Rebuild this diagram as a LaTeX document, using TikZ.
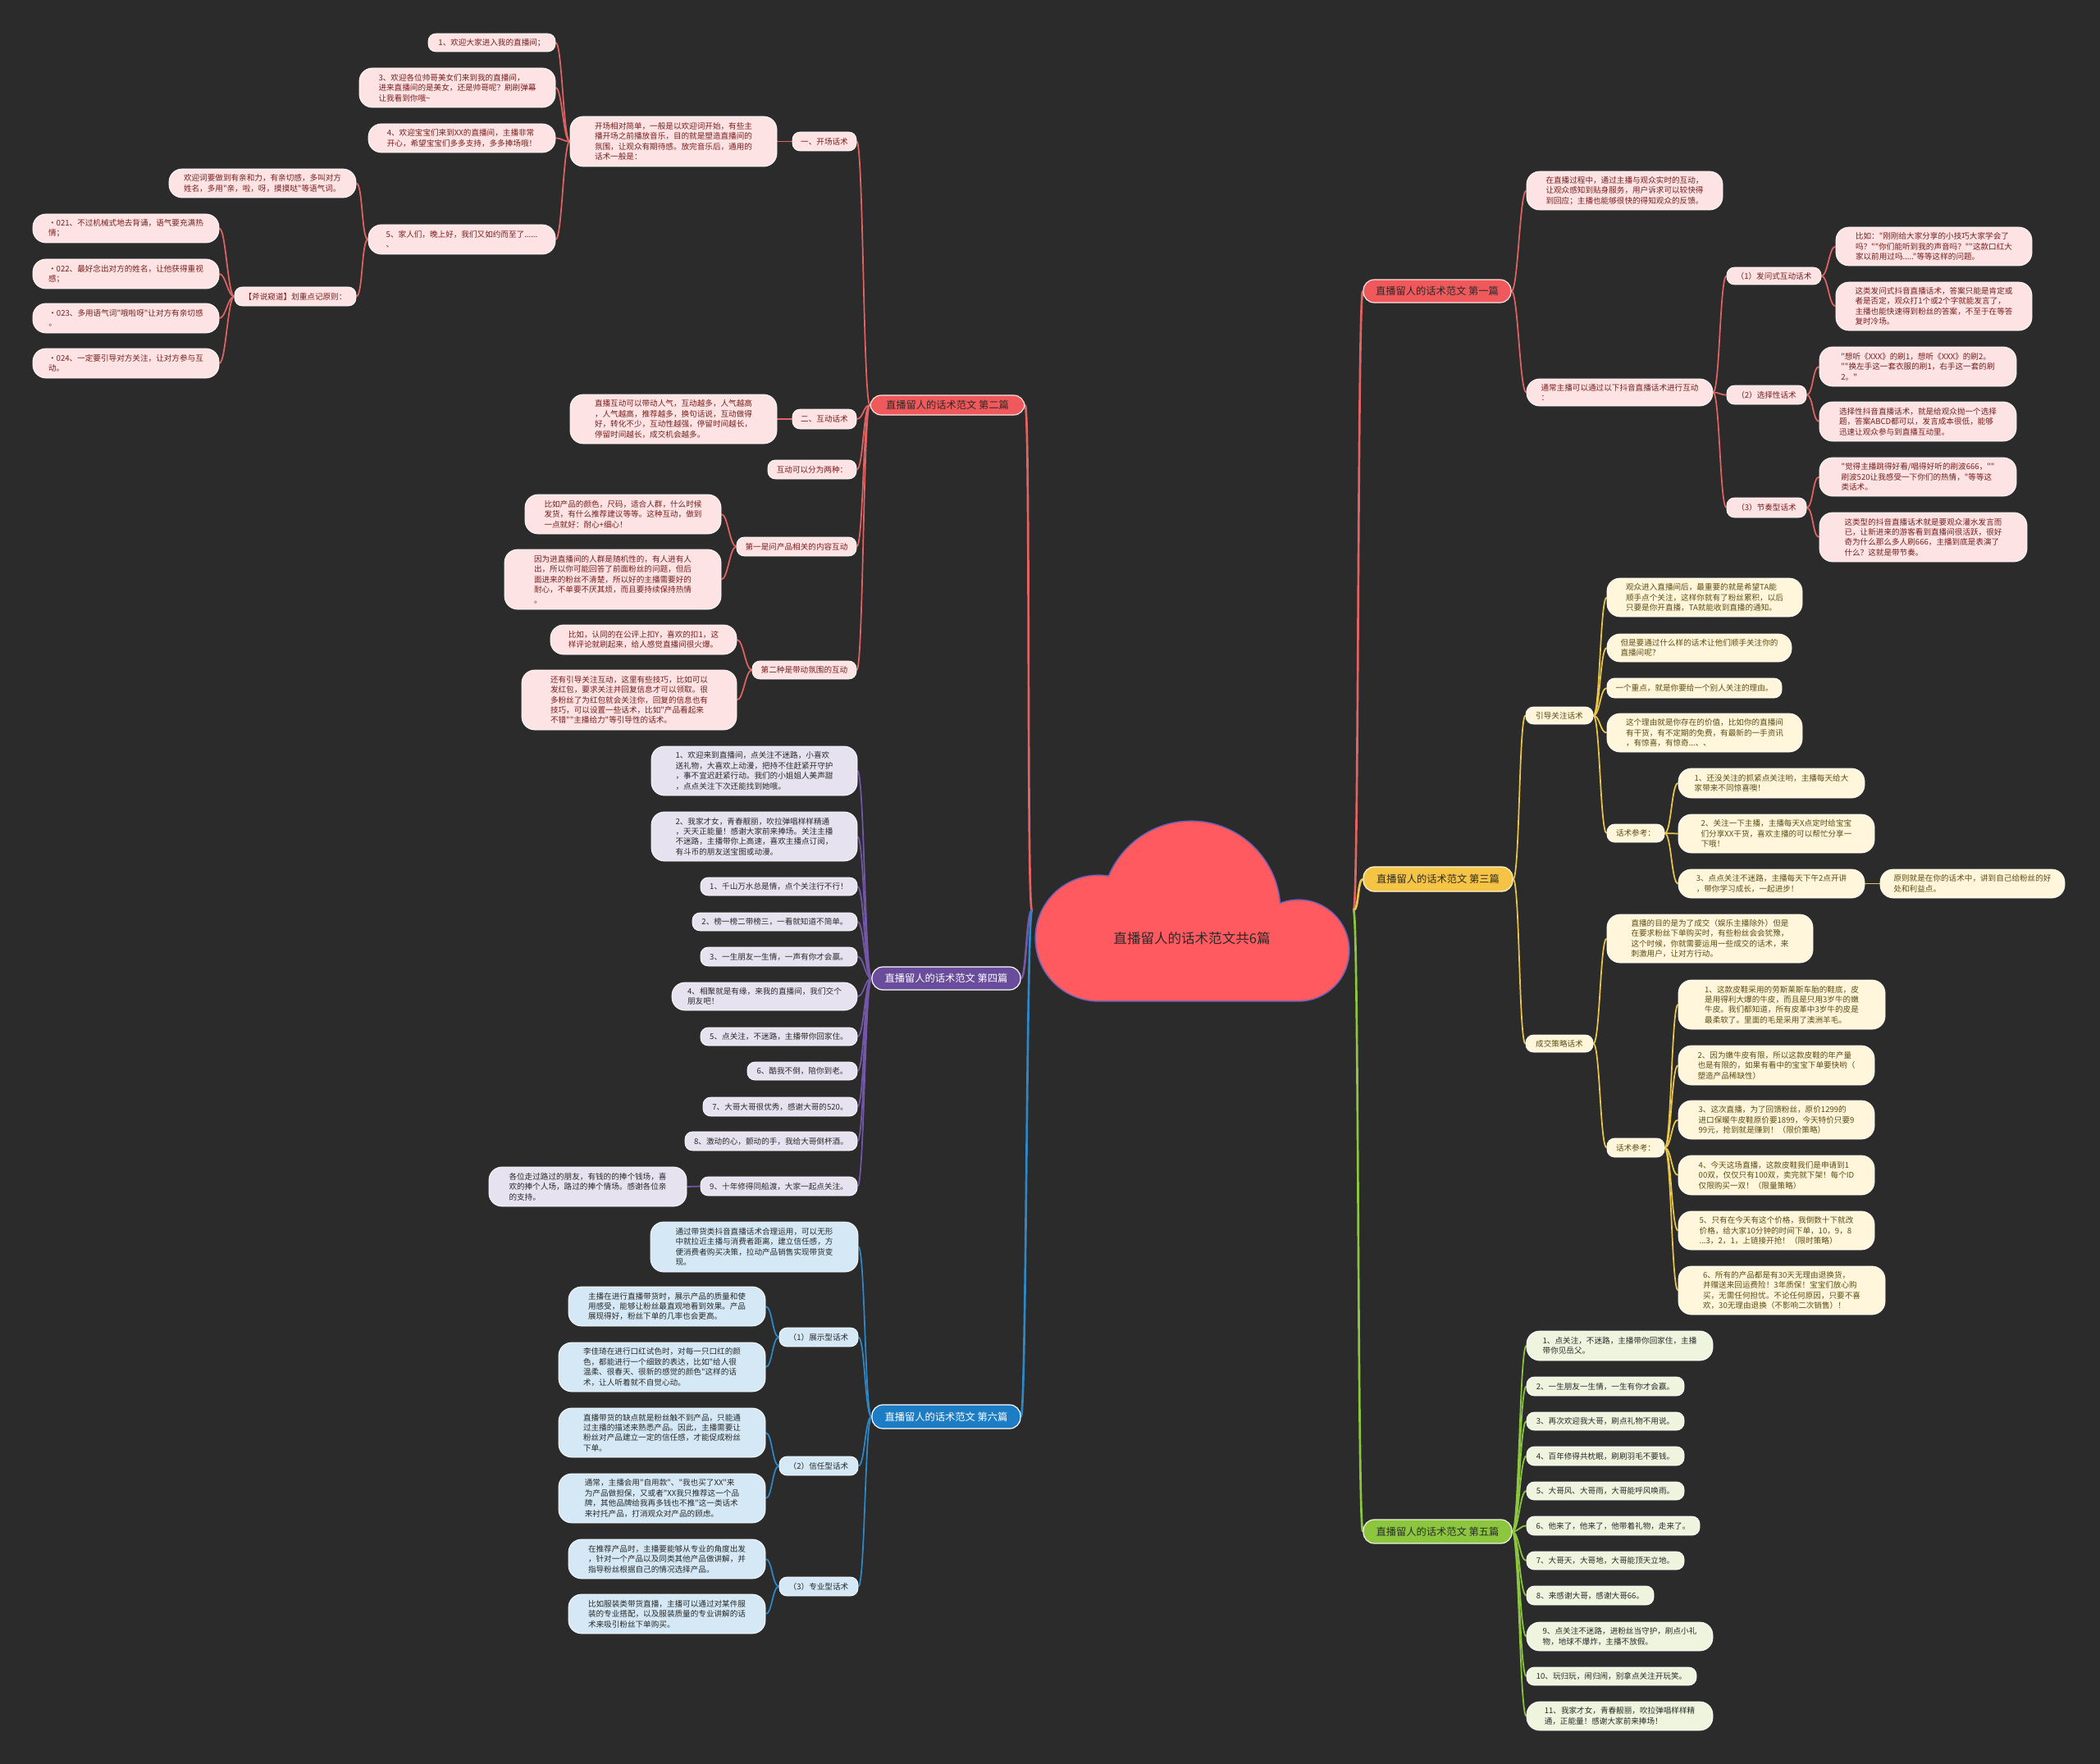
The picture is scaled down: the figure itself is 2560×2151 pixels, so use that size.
\documentclass[tikz,border=0pt]{standalone}
\usepackage{fontspec}
\newfontfamily\cjk{Noto Sans CJK SC}
\definecolor{bgc}{HTML}{2B2B2B}
\definecolor{cloudc}{HTML}{FF5A5F}
\definecolor{cloudb}{HTML}{6E62B4}
\definecolor{rmainc}{HTML}{F0595B}
\definecolor{rleafc}{HTML}{FDE3E3}
\definecolor{rtext}{HTML}{7A1E1E}
\definecolor{rline}{HTML}{E26363}
\definecolor{pmainc}{HTML}{6A4C9C}
\definecolor{pleafc}{HTML}{E7E2F0}
\definecolor{pline}{HTML}{7457A6}
\definecolor{bmainc}{HTML}{1D7DC4}
\definecolor{bleafc}{HTML}{D4E8F5}
\definecolor{bline}{HTML}{2E88C8}
\definecolor{ymainc}{HTML}{F6C445}
\definecolor{yleafc}{HTML}{FFF6DB}
\definecolor{ytext}{HTML}{5E4C12}
\definecolor{yline}{HTML}{EAC64A}
\definecolor{gmainc}{HTML}{8CC63F}
\definecolor{gleafc}{HTML}{EEF4DE}
\definecolor{gline}{HTML}{8CC63F}
\definecolor{dtext}{HTML}{2A2A2A}
\newcommand\lffont{\cjk\fontsize{7.2pt}{9.3pt}\selectfont}
\newcommand\mnfont{\cjk\fontsize{9.2pt}{11pt}\selectfont}
\newcommand\ctfont{\cjk\fontsize{12.4pt}{14pt}\selectfont}
\pgfdeclarelayer{bg}
\pgfdeclarelayer{lines}
\pgfsetlayers{bg,lines,main}
\newcommand\mapbox[7]{\node[#6,minimum width={(#4-#2)*0.75pt},minimum height={(#5-#3)*0.75pt}] (#1) at ({(#2+#4)/2},{(#3+#5)/2}) {#7};}
\newcommand\lkl[3]{\draw[#1] (#2.west) to[out=180,in=0,distance=6pt] (#3.east);}
\newcommand\lkr[3]{\draw[#1] (#2.east) to[out=0,in=180,distance=6pt] (#3.west);}
\tikzset{
  leaf/.style={inner sep=0pt,align=left,rounded corners=7pt,draw=white,line width=0.6pt,font=\lffont},
  ml/.style={rounded corners=12pt},
  mainn/.style={inner sep=0pt,align=center,rounded corners=10pt,draw=white,line width=0.9pt,font=\mnfont},
  rleaf/.style={leaf,fill=rleafc,text=rtext},
  pleaf/.style={leaf,fill=pleafc,text=dtext},
  bleaf/.style={leaf,fill=bleafc,text=dtext},
  yleaf/.style={leaf,fill=yleafc,text=ytext},
  gleaf/.style={leaf,fill=gleafc,text=dtext},
  rmain/.style={mainn,fill=rmainc,draw=rleafc,text=dtext},
  pmain/.style={mainn,fill=pmainc,text=white},
  bmain/.style={mainn,fill=bmainc,text=white},
  ymain/.style={mainn,fill=ymainc,draw=yleafc,text=dtext},
  gmain/.style={mainn,fill=gmainc,draw=gleafc,text=dtext},
  rl/.style={draw=rline,line width=1.3pt},
  pl/.style={draw=pline,line width=1.3pt},
  bl/.style={draw=bline,line width=1.3pt},
  yl/.style={draw=yline,line width=1.3pt},
  gl/.style={draw=gline,line width=1.3pt},
  rml/.style={draw=rline,line width=2pt},
  pml/.style={draw=pline,line width=2pt},
  bml/.style={draw=bline,line width=2pt},
  yml/.style={draw=yline,line width=2pt},
  gml/.style={draw=gline,line width=2pt}
}
\begin{document}
\begin{tikzpicture}[x=0.75pt,y=-0.75pt]
\useasboundingbox (0,0) rectangle (2560,2151);
\begin{pgfonlayer}{bg}
\fill[bgc] (0,0) rectangle (2560,2151);
\end{pgfonlayer}

% ---------- cloud ----------
\path[draw=cloudb,line width=2.4pt] (1339,1144) circle[radius=57pt] (1452,1110) circle[radius=81pt] (1583,1159) circle[radius=45.75pt] (1339,1144) rectangle (1583,1220);
\path[fill=cloudc] (1339,1144) circle[radius=57pt] (1452,1110) circle[radius=81pt] (1583,1159) circle[radius=45.75pt] (1339,1144) rectangle (1583,1220);
\node[font=\ctfont,text=dtext] (root) at (1453,1144) {直播留人的话术范文共6篇};
\coordinate (cL) at (1258,1110);
\coordinate (cR) at (1650,1110);

% ---------- 第二篇 ----------
\mapbox{r2}{1061}{482}{1249}{506}{rmain}{直播留人的话术范文 第二篇}
\mapbox{r2a}{966}{161}{1044}{184}{rleaf}{一、开场话术}
\mapbox{r2a1}{695}{142}{947}{203}{rleaf,ml}{开场相对简单，一般是以欢迎词开始，有些主\\播开场之前播放音乐，目的就是塑造直播间的\\氛围，让观众有期待感。放完音乐后，通用的\\话术一般是：}
\mapbox{r2a1a}{522}{41}{677}{63}{rleaf}{1、欢迎大家进入我的直播间；}
\mapbox{r2a1b}{438}{83}{677}{131}{rleaf,ml}{3、欢迎各位帅哥美女们来到我的直播间，\\进来直播间的是美女，还是帅哥呢？刷刷弹幕\\让我看到你哦\textasciitilde}
\mapbox{r2a1c}{449}{151}{677}{186}{rleaf,ml}{4、欢迎宝宝们来到XX的直播间，主播非常\\开心，希望宝宝们多多支持，多多捧场哦！}
\mapbox{r2a1d}{449}{274}{677}{310}{rleaf,ml}{5、家人们，晚上好，我们又如约而至了......\\、}
\mapbox{r2w}{206}{206}{434}{241}{rleaf,ml}{欢迎词要做到有亲和力，有亲切感，多叫对方\\姓名，多用"亲，啦，呀，摸摸哒"等语气词。}
\mapbox{r2z}{286}{350}{434}{373}{rleaf}{【斧说窥道】划重点记原则：}
\mapbox{r2z1}{40}{261}{267}{296}{rleaf,ml}{·021、不过机械式地去背诵，语气要充满热\\情；}
\mapbox{r2z2}{40}{316}{267}{352}{rleaf,ml}{·022、最好念出对方的姓名，让他获得重视\\感；}
\mapbox{r2z3}{40}{370}{267}{406}{rleaf,ml}{·023、多用语气词"哦啦呀"让对方有亲切感\\。}
\mapbox{r2z4}{40}{425}{267}{461}{rleaf,ml}{·024、一定要引导对方关注，让对方参与互\\动。}
\mapbox{r2b}{966}{499}{1044}{523}{rleaf}{二、互动话术}
\mapbox{r2b1}{695}{481}{947}{541}{rleaf,ml}{直播互动可以带动人气，互动越多，人气越高\\，人气越高，推荐越多，换句话说，互动做得\\好，转化不少，互动性越强，停留时间越长，\\停留时间越长，成交机会越多。}
\mapbox{r2c}{936}{561}{1044}{584}{rleaf}{互动可以分为两种：}
\mapbox{r2d}{898}{655}{1044}{678}{rleaf}{第一是问产品相关的内容互动}
\mapbox{r2d1}{640}{603}{879}{651}{rleaf,ml}{比如产品的颜色，尺码，适合人群，什么时候\\发货，有什么推荐建议等等。这种互动，做到\\一点就好：耐心+细心！}
\mapbox{r2d2}{615}{670}{879}{743}{rleaf,ml}{因为进直播间的人群是随机性的，有人进有人\\出，所以你可能回答了前面粉丝的问题，但后\\面进来的粉丝不清楚，所以好的主播需要好的\\耐心，不单要不厌其烦，而且要持续保持热情\\。}
\mapbox{r2e}{917}{806}{1044}{828}{rleaf}{第二种是带动氛围的互动}
\mapbox{r2e1}{671}{762}{898}{798}{rleaf,ml}{比如，认同的在公评上扣Y，喜欢的扣1，这\\样评论就刷起来，给人感觉直播间很火爆。}
\mapbox{r2e2}{636}{817}{898}{890}{rleaf,ml}{还有引导关注互动，这里有些技巧，比如可以\\发红包，要求关注并回复信息才可以领取。很\\多粉丝了为红包就会关注你，回复的信息也有\\技巧，可以设置一些话术，比如"产品看起来\\不错""主播给力"等引导性的话术。}

% ---------- 第四篇 ----------
\mapbox{p4}{1063}{1179}{1244}{1207}{pmain}{直播留人的话术范文 第四篇}
\mapbox{p4a}{794}{910}{1045}{970}{pleaf,ml}{1、欢迎来到直播间，点关注不迷路，小喜欢\\送礼物，大喜欢上动漫，把持不住赶紧开守护\\，事不宜迟赶紧行动。我们的小姐姐人美声甜\\，点点关注下次还能找到她哦。}
\mapbox{p4b}{794}{990}{1045}{1050}{pleaf,ml}{2、我家才女，青春靓丽，吹拉弹唱样样精通\\，天天正能量！感谢大家前来捧场。关注主播\\不迷路，主播带你上高速，喜欢主播点订阅，\\有斗币的朋友送宝图或动漫。}
\mapbox{p4c}{854}{1070}{1045}{1092}{pleaf}{1、千山万水总是情，点个关注行不行！}
\mapbox{p4d}{844}{1113}{1045}{1135}{pleaf}{2、榜一榜二带榜三，一看就知道不简单。}
\mapbox{p4e}{854}{1155}{1045}{1178}{pleaf}{3、一生朋友一生情，一声有你才会赢。}
\mapbox{p4f}{819}{1198}{1045}{1232}{pleaf,ml}{4、相聚就是有缘，来我的直播间，我们交个\\朋友吧！}
\mapbox{p4g}{854}{1253}{1045}{1275}{pleaf}{5、点关注，不迷路，主播带你回家住。}
\mapbox{p4h}{911}{1295}{1045}{1317}{pleaf}{6、酷我不倒，陪你到老。}
\mapbox{p4i}{857}{1338}{1045}{1361}{pleaf}{7、大哥大哥很优秀，感谢大哥的520。}
\mapbox{p4j}{835}{1380}{1045}{1403}{pleaf}{8、激动的心，颤动的手，我给大哥倒杯酒。}
\mapbox{p4k}{854}{1435}{1045}{1458}{pleaf}{9、十年修得同船渡，大家一起点关注。}
\mapbox{p4k1}{596}{1423}{837}{1471}{pleaf,ml}{各位走过路过的朋友，有钱的的捧个钱场，喜\\欢的捧个人场，路过的捧个情场。感谢各位亲\\的支持。}

% ---------- 第六篇 ----------
\mapbox{b6}{1063}{1713}{1244}{1742}{bmain}{直播留人的话术范文 第六篇}
\mapbox{b6a}{793}{1490}{1046}{1551}{bleaf,ml}{通过带货类抖音直播话术合理运用，可以无形\\中就拉近主播与消费者距离，建立信任感，方\\便消费者购买决策，拉动产品销售实现带货变\\现。}
\mapbox{b6b}{950}{1619}{1046}{1642}{bleaf}{（1）展示型话术}
\mapbox{b6b1}{693}{1569}{933}{1617}{bleaf,ml}{主播在进行直播带货时，展示产品的质量和使\\用感受，能够让粉丝最直观地看到效果。产品\\展现得好，粉丝下单的几率也会更高。}
\mapbox{b6b2}{681}{1637}{933}{1697}{bleaf,ml}{李佳琦在进行口红试色时，对每一只口红的颜\\色，都能进行一个细致的表达，比如"给人很\\温柔、很春天、很新的感觉的颜色"这样的话\\术，让人听着就不自觉心动。}
\mapbox{b6c}{950}{1776}{1046}{1799}{bleaf}{（2）信任型话术}
\mapbox{b6c1}{681}{1717}{933}{1777}{bleaf,ml}{直播带货的缺点就是粉丝触不到产品，只能通\\过主播的描述来熟悉产品。因此，主播需要让\\粉丝对产品建立一定的信任感，才能促成粉丝\\下单。}
\mapbox{b6c2}{681}{1797}{933}{1857}{bleaf,ml}{通常，主播会用"自用款"、"我也买了XX"来\\为产品做担保，又或者"XX我只推荐这一个品\\牌，其他品牌给我再多钱也不推"这一类话术\\来衬托产品，打消观众对产品的顾虑。}
\mapbox{b6d}{950}{1923}{1046}{1946}{bleaf}{（3）专业型话术}
\mapbox{b6d1}{693}{1877}{933}{1925}{bleaf,ml}{在推荐产品时，主播要能够从专业的角度出发\\，针对一个产品以及同类其他产品做讲解，并\\指导粉丝根据自己的情况选择产品。}
\mapbox{b6d2}{693}{1944}{933}{1992}{bleaf,ml}{比如服装类带货直播，主播可以通过对某件服\\装的专业搭配，以及服装质量的专业讲解的话\\术来吸引粉丝下单购买。}

% ---------- 第一篇 ----------
\mapbox{r1}{1662}{341}{1842}{369}{rmain}{直播留人的话术范文 第一篇}
\mapbox{r1a}{1861}{209}{2100}{256}{rleaf,ml}{在直播过程中，通过主播与观众实时的互动，\\让观众感知到贴身服务，用户诉求可以较快得\\到回应；主播也能够很快的得知观众的反馈。}
\mapbox{r1b}{1861}{462}{2088}{495}{rleaf,ml}{通常主播可以通过以下抖音直播话术进行互动\\：}
\mapbox{r1b1}{2105}{326}{2220}{347}{rleaf}{（1）发问式互动话术}
\mapbox{r1b1a}{2238}{277}{2477}{324}{rleaf,ml}{比如："刚刚给大家分享的小技巧大家学会了\\吗？""你们能听到我的声音吗？""这款口红大\\家以前用过吗....."等等这样的问题。}
\mapbox{r1b1b}{2238}{344}{2477}{403}{rleaf,ml}{这类发问式抖音直播话术，答案只能是肯定或\\者是否定，观众打1个或2个字就能发言了，\\主播也能快速得到粉丝的答案，不至于在等答\\复时冷场。}
\mapbox{r1b2}{2105}{470}{2202}{493}{rleaf}{（2）选择性话术}
\mapbox{r1b2a}{2218}{423}{2458}{471}{rleaf,ml}{"想听《XXX》的刷1，想听《XXX》的刷2。\\""换左手这一套衣服的刷1，右手这一套的刷\\2。"}
\mapbox{r1b2b}{2218}{490}{2458}{538}{rleaf,ml}{选择性抖音直播话术，就是给观众抛一个选择\\题，答案ABCD都可以，发言成本很低，能够\\迅速让观众参与到直播互动里。}
\mapbox{r1b3}{2105}{607}{2202}{631}{rleaf}{（3）节奏型话术}
\mapbox{r1b3a}{2218}{558}{2458}{605}{rleaf,ml}{"觉得主播跳得好看/唱得好听的刷波666，""\\刷波520让我感受一下你们的热情，"等等这\\类话术。}
\mapbox{r1b3b}{2218}{625}{2471}{685}{rleaf,ml}{这类型的抖音直播话术就是要观众灌水发言而\\已，让新进来的游客看到直播间很活跃，很好\\奇为什么那么多人刷666，主播到底是表演了\\什么？这就是带节奏。}

% ---------- 第三篇 ----------
\mapbox{y3}{1662}{1057}{1844}{1087}{ymain}{直播留人的话术范文 第三篇}
\mapbox{y3a}{1860}{862}{1942}{883}{yleaf}{引导关注话术}
\mapbox{y3a1}{1959}{705}{2197}{752}{yleaf,ml}{观众进入直播间后，最重要的就是希望TA能\\顺手点个关注，这样你就有了粉丝累积，以后\\只要是你开直播，TA就能收到直播的通知。}
\mapbox{y3a2}{1959}{773}{2184}{807}{yleaf,ml}{但是要通过什么样的话术让他们顺手关注你的\\直播间呢？}
\mapbox{y3a3}{1959}{827}{2172}{851}{yleaf}{一个重点，就是你要给一个别人关注的理由。}
\mapbox{y3a4}{1959}{870}{2197}{917}{yleaf,ml}{这个理由就是你存在的价值，比如你的直播间\\有干货，有不定期的免费，有最新的一手资讯\\，有惊喜，有惊奇...、、}
\mapbox{y3a5}{1959}{1005}{2029}{1027}{yleaf}{话术参考：}
\mapbox{y3a5a}{2046}{937}{2273}{973}{yleaf,ml}{1、还没关注的抓紧点关注哟，主播每天给大\\家带来不同惊喜噢！}
\mapbox{y3a5b}{2046}{993}{2285}{1040}{yleaf,ml}{2、关注一下主播，主播每天X点定时给宝宝\\们分享XX干货，喜欢主播的可以帮忙分享一\\下哦！}
\mapbox{y3a5c}{2046}{1060}{2273}{1095}{yleaf,ml}{3、点点关注不迷路，主播每天下午2点开讲\\，带你学习成长，一起进步！}
\mapbox{y3a5d}{2292}{1060}{2517}{1095}{yleaf,ml}{原则就是在你的话术中，讲到自己给粉丝的好\\处和利益点。}
\mapbox{y3b}{1860}{1262}{1942}{1283}{yleaf}{成交策略话术}
\mapbox{y3b1}{1959}{1115}{2210}{1174}{yleaf,ml}{直播的目的是为了成交（娱乐主播除外）但是\\在要求粉丝下单购买时，有些粉丝会会犹豫，\\这个时候，你就需要运用一些成交的话术，来\\刺激用户，让对方行动。}
\mapbox{y3b2}{1959}{1388}{2029}{1411}{yleaf}{话术参考：}
\mapbox{y3b2a}{2046}{1195}{2298}{1255}{yleaf,ml}{1、这款皮鞋采用的劳斯莱斯车胎的鞋底，皮\\是用得利大爆的牛皮，而且是只用3岁牛的嫩\\牛皮。我们都知道，所有皮革中3岁牛的皮是\\最柔软了。里面的毛是采用了澳洲羊毛。}
\mapbox{y3b2b}{2046}{1275}{2285}{1323}{yleaf,ml}{2、因为嫩牛皮有限，所以这款皮鞋的年产量\\也是有限的，如果有看中的宝宝下单要快哟（\\塑造产品稀缺性）}
\mapbox{y3b2c}{2046}{1342}{2285}{1389}{yleaf,ml}{3、这次直播，为了回馈粉丝，原价1299的\\进口保暖牛皮鞋原价要1899，今天特价只要9\\99元，抢到就是赚到！（限价策略）}
\mapbox{y3b2d}{2046}{1409}{2285}{1457}{yleaf,ml}{4、今天这场直播，这款皮鞋我们是申请到1\\00双，仅仅只有100双，卖完就下架！每个ID\\仅限购买一双！（限量策略）}
\mapbox{y3b2e}{2046}{1477}{2285}{1524}{yleaf,ml}{5、只有在今天有这个价格，我倒数十下就改\\价格，给大家10分钟的时间下单，10，9，8\\...3，2，1，上链接开抢！（限时策略）}
\mapbox{y3b2f}{2046}{1544}{2298}{1603}{yleaf,ml}{6、所有的产品都是有30天无理由退换货，\\并赠送来回运费险！3年质保！宝宝们放心购\\买，无需任何担忧。不论任何原因，只要不喜\\欢，30无理由退换（不影响二次销售）！}

% ---------- 第五篇 ----------
\mapbox{g5}{1662}{1853}{1843}{1882}{gmain}{直播留人的话术范文 第五篇}
\mapbox{g5a}{1861}{1623}{2088}{1659}{gleaf,ml}{1、点关注，不迷路，主播带你回家住，主播\\带你见岳父。}
\mapbox{g5b}{1861}{1679}{2053}{1702}{gleaf}{2、一生朋友一生情，一生有你才会赢。}
\mapbox{g5c}{1861}{1722}{2053}{1744}{gleaf}{3、再次欢迎我大哥，刷点礼物不用说。}
\mapbox{g5d}{1861}{1764}{2053}{1787}{gleaf}{4、百年修得共枕眠，刷刷羽毛不要钱。}
\mapbox{g5e}{1861}{1807}{2053}{1829}{gleaf}{5、大哥风、大哥雨，大哥能呼风唤雨。}
\mapbox{g5f}{1861}{1849}{2072}{1872}{gleaf}{6、他来了，他来了，他带着礼物，走来了。}
\mapbox{g5g}{1861}{1892}{2053}{1914}{gleaf}{7、大哥天，大哥地，大哥能顶天立地。}
\mapbox{g5h}{1861}{1934}{2016}{1957}{gleaf}{8、来感谢大哥，感谢大哥66。}
\mapbox{g5i}{1861}{1978}{2088}{2013}{gleaf,ml}{9、点关注不迷路，进粉丝当守护，刷点小礼\\物，地球不爆炸，主播不放假。}
\mapbox{g5j}{1861}{2033}{2068}{2055}{gleaf}{10、玩归玩，闹归闹，别拿点关注开玩笑。}
\mapbox{g5k}{1861}{2075}{2088}{2110}{gleaf,ml}{11、我家才女，青春靓丽，吹拉弹唱样样精\\通，正能量！感谢大家前来捧场！}

% ---------- connectors ----------
\begin{pgfonlayer}{lines}
\draw[rml] (cL) to[out=180,in=0,distance=5pt] (r2.east);
\draw[pml] (cL) to[out=180,in=0,distance=5pt] (p4.east);
\draw[bml] (cL) to[out=180,in=0,distance=5pt] (b6.east);
\draw[rml] (cR) to[out=0,in=180,distance=5pt] (r1.west);
\draw[yml] (cR) to[out=0,in=180,distance=5pt] (y3.west);
\draw[gml] (cR) to[out=0,in=180,distance=5pt] (g5.west);
\foreach \c in {r2a,r2b,r2c,r2d,r2e}{\lkl{rl}{r2}{\c}}
\lkl{rl}{r2a}{r2a1}
\foreach \c in {r2a1a,r2a1b,r2a1c,r2a1d}{\lkl{rl}{r2a1}{\c}}
\foreach \c in {r2w,r2z}{\lkl{rl}{r2a1d}{\c}}
\foreach \c in {r2z1,r2z2,r2z3,r2z4}{\lkl{rl}{r2z}{\c}}
\lkl{rl}{r2b}{r2b1}
\foreach \c in {r2d1,r2d2}{\lkl{rl}{r2d}{\c}}
\foreach \c in {r2e1,r2e2}{\lkl{rl}{r2e}{\c}}
\foreach \c in {p4a,p4b,p4c,p4d,p4e,p4f,p4g,p4h,p4i,p4j,p4k}{\lkl{pl}{p4}{\c}}
\lkl{pl}{p4k}{p4k1}
\foreach \c in {b6a,b6b,b6c,b6d}{\lkl{bl}{b6}{\c}}
\foreach \c in {b6b1,b6b2}{\lkl{bl}{b6b}{\c}}
\foreach \c in {b6c1,b6c2}{\lkl{bl}{b6c}{\c}}
\foreach \c in {b6d1,b6d2}{\lkl{bl}{b6d}{\c}}
\foreach \c in {r1a,r1b}{\lkr{rl}{r1}{\c}}
\foreach \c in {r1b1,r1b2,r1b3}{\lkr{rl}{r1b}{\c}}
\foreach \c in {r1b1a,r1b1b}{\lkr{rl}{r1b1}{\c}}
\foreach \c in {r1b2a,r1b2b}{\lkr{rl}{r1b2}{\c}}
\foreach \c in {r1b3a,r1b3b}{\lkr{rl}{r1b3}{\c}}
\foreach \c in {y3a,y3b}{\lkr{yl}{y3}{\c}}
\foreach \c in {y3a1,y3a2,y3a3,y3a4,y3a5}{\lkr{yl}{y3a}{\c}}
\foreach \c in {y3a5a,y3a5b,y3a5c}{\lkr{yl}{y3a5}{\c}}
\lkr{yl}{y3a5c}{y3a5d}
\foreach \c in {y3b1,y3b2}{\lkr{yl}{y3b}{\c}}
\foreach \c in {y3b2a,y3b2b,y3b2c,y3b2d,y3b2e,y3b2f}{\lkr{yl}{y3b2}{\c}}
\foreach \c in {g5a,g5b,g5c,g5d,g5e,g5f,g5g,g5h,g5i,g5j,g5k}{\lkr{gl}{g5}{\c}}
\end{pgfonlayer}
\end{tikzpicture}
\end{document}
